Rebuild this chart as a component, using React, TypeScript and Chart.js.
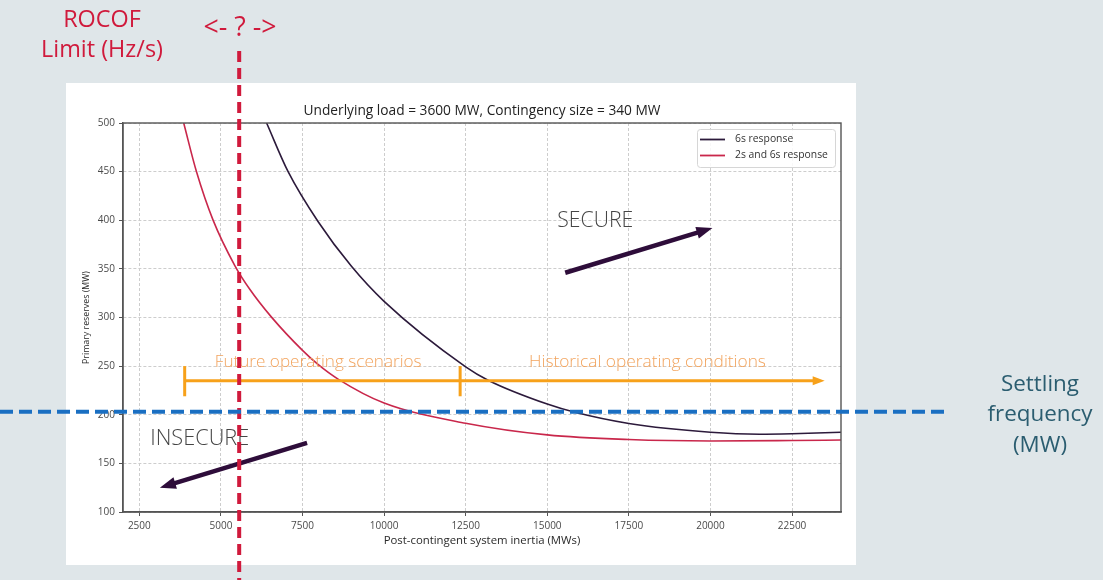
import React, { useEffect, useRef } from "react";
import { Chart, registerables } from "chart.js";

Chart.register(...registerables);

// ---------- data ----------
const seriesLabels = ["6s response", "2s and 6s response"];
const chartTitle = "Underlying load = 3600 MW, Contingency size = 340 MW";
const xAxisTitle = "Post-contingent system inertia (MWs)";
const yAxisTitle = "Primary reserves (MW)";

const inertia6s = [6400, 7055, 7975, 9000, 10000, 12500, 13200, 15000, 15850, 17500, 20000, 21500, 22500, 24000];
const reserves6s = [500, 450.2, 398.7, 352.6, 316.6, 249.3, 235.3, 211, 202.5, 191, 182, 180, 180.5, 182];

const inertia2s6s = [3860, 4250, 4760, 5430, 5890, 6550, 7500, 7975, 8590, 10000, 12500, 15000, 17500, 20000, 22500, 24000];
const reserves2s6s = [500, 450.1, 400.1, 353.2, 328.8, 300.4, 266.2, 251.7, 236.6, 212, 191.3, 179.3, 174.5, 173, 173.5, 174];

const xTickValues = [2500, 5000, 7500, 10000, 12500, 15000, 17500, 20000, 22500];
const X_MIN = 2000;
const X_MAX = 24000;
const Y_MIN = 100;
const Y_MAX = 500;
const Y_STEP = 50;

// annotation values (data coordinates)
const rocofLimitInertia = 5560;
const settlingReserve = 203;
const operatingBandReserve = 235;
const operatingBandTickTop = 250;
const operatingBandTickBottom = 219;
const futureStartInertia = 3890;
const historicalStartInertia = 12330;
const historicalEndInertia = 23500;
const secureArrow = [[15550, 346], [20060, 392]];
const insecureArrow = [[7640, 171], [3130, 125]];
const secureLabel = { text: "SECURE", x: 16470, y: 399 };
const insecureLabel = { text: "INSECURE", x: 4350, y: 175 };
const futureLabel = { text: "Future operating scenarios", x: 7980, y: 254 };
const historicalLabel = { text: "Historical operating conditions", x: 18070, y: 254 };

const COLORS = {
  page: "#dfe6e9",
  panel: "#ffffff",
  s6: "#2c1a3b",
  s2: "#c9274b",
  grid: "#cdcdcd",
  axis: "#555555",
  tickText: "#4a4a4a",
  red: "#d01a3c",
  blue: "#1a6fc2",
  orange: "#f7a11a",
  orangeText: "#f2a45e",
  arrow: "#2e0d3a",
  regionText: "#454545",
  settling: "#2b5d70",
};

const FONT = "'Open Sans', 'Noto Sans', sans-serif";

function fitText(
  ctx: CanvasRenderingContext2D,
  text: string,
  cx: number,
  cy: number,
  width: number,
  color: string,
  weight = "400"
) {
  ctx.font = `${weight} 20px ${FONT}`;
  const w = ctx.measureText(text).width;
  const size = (20 * width) / w;
  ctx.font = `${weight} ${size}px ${FONT}`;
  ctx.fillStyle = color;
  ctx.textAlign = "center";
  ctx.textBaseline = "middle";
  ctx.fillText(text, cx, cy);
  return size;
}

function sizeFor(ctx: CanvasRenderingContext2D, text: string, width: number, weight = "400") {
  ctx.font = `${weight} 20px ${FONT}`;
  return (20 * width) / ctx.measureText(text).width;
}

function drawArrow(
  ctx: CanvasRenderingContext2D,
  x0: number,
  y0: number,
  x1: number,
  y1: number,
  color: string,
  width: number,
  headLen: number,
  headHalf: number
) {
  const ang = Math.atan2(y1 - y0, x1 - x0);
  const bx = x1 - headLen * Math.cos(ang);
  const by = y1 - headLen * Math.sin(ang);
  ctx.save();
  ctx.strokeStyle = color;
  ctx.fillStyle = color;
  ctx.lineWidth = width;
  ctx.lineCap = "butt";
  ctx.beginPath();
  ctx.moveTo(x0, y0);
  ctx.lineTo(bx + Math.cos(ang) * 2, by + Math.sin(ang) * 2);
  ctx.stroke();
  ctx.beginPath();
  ctx.moveTo(x1, y1);
  ctx.lineTo(bx + headHalf * Math.sin(ang), by - headHalf * Math.cos(ang));
  ctx.lineTo(bx - headHalf * Math.sin(ang), by + headHalf * Math.cos(ang));
  ctx.closePath();
  ctx.fill();
  ctx.restore();
}

const overlayPlugin = {
  id: "overlay",
  beforeDraw(chart: any) {
    const ctx = chart.ctx as CanvasRenderingContext2D;
    ctx.save();
    ctx.fillStyle = COLORS.page;
    ctx.fillRect(0, 0, chart.width, chart.height);
    ctx.fillStyle = COLORS.panel;
    ctx.fillRect(66, 83, 790, 482);
    ctx.restore();
  },
  afterDraw(chart: any) {
    const ctx = chart.ctx as CanvasRenderingContext2D;
    const xs = chart.scales.x;
    const ys = chart.scales.y;
    const px = (v: number) => xs.getPixelForValue(v);
    const py = (v: number) => ys.getPixelForValue(v);
    const a = chart.chartArea;

    ctx.save();
    // frame
    ctx.strokeStyle = COLORS.axis;
    ctx.lineWidth = 1.4;
    ctx.strokeRect(a.left, a.top, a.right - a.left, a.bottom - a.top);

    // title & axis titles
    fitText(ctx, chartTitle, (a.left + a.right) / 2, 111, 357, "#222");
    fitText(ctx, xAxisTitle, (a.left + a.right) / 2, 541, 197, "#2a2a2a");
    ctx.save();
    ctx.translate(86.5, (a.top + a.bottom) / 2);
    ctx.rotate(-Math.PI / 2);
    fitText(ctx, yAxisTitle, 0, 0, 93, "#2a2a2a");
    ctx.restore();

    // legend
    const lx = 697, ly = 129, lw = 138, lh = 38;
    ctx.fillStyle = "rgba(255,255,255,0.85)";
    ctx.strokeStyle = "#d6d6d6";
    ctx.lineWidth = 1;
    ctx.beginPath();
    (ctx as any).roundRect(lx + 0.5, ly + 0.5, lw, lh, 3);
    ctx.fill();
    ctx.stroke();
    const legendColors = [COLORS.s6, COLORS.s2];
    const legendY = [139.5, 155.5];
    const lSize = sizeFor(ctx, seriesLabels[1], 93);
    seriesLabels.forEach((lab, i) => {
      ctx.strokeStyle = legendColors[i];
      ctx.lineWidth = 1.8;
      ctx.beginPath();
      ctx.moveTo(700, legendY[i]);
      ctx.lineTo(725, legendY[i]);
      ctx.stroke();
      ctx.font = `400 ${lSize}px ${FONT}`;
      ctx.fillStyle = "#333";
      ctx.textAlign = "left";
      ctx.textBaseline = "middle";
      ctx.fillText(lab, 735, legendY[i]);
    });

    // operating band (orange)
    const bandY = py(operatingBandReserve);
    drawArrow(ctx, px(futureStartInertia), bandY, px(historicalEndInertia), bandY, COLORS.orange, 3, 12, 4.5);
    ctx.strokeStyle = COLORS.orange;
    ctx.lineWidth = 3;
    [futureStartInertia, historicalStartInertia].forEach((v) => {
      ctx.beginPath();
      ctx.moveTo(px(v), py(operatingBandTickTop));
      ctx.lineTo(px(v), py(operatingBandTickBottom));
      ctx.stroke();
    });
    fitText(ctx, futureLabel.text, px(futureLabel.x), py(futureLabel.y), 207, COLORS.orangeText, "300");
    fitText(ctx, historicalLabel.text, px(historicalLabel.x), py(historicalLabel.y), 237, COLORS.orangeText, "300");

    // region labels and arrows
    fitText(ctx, secureLabel.text, px(secureLabel.x), py(secureLabel.y), 76, COLORS.regionText, "300");
    fitText(ctx, insecureLabel.text, px(insecureLabel.x), py(insecureLabel.y), 99, COLORS.regionText, "300");
    drawArrow(ctx, px(secureArrow[0][0]), py(secureArrow[0][1]), px(secureArrow[1][0]), py(secureArrow[1][1]), COLORS.arrow, 4.5, 16, 6);
    drawArrow(ctx, px(insecureArrow[0][0]), py(insecureArrow[0][1]), px(insecureArrow[1][0]), py(insecureArrow[1][1]), COLORS.arrow, 4.5, 16, 6);

    // ROCOF limit (red dashed vertical)
    const rx = px(rocofLimitInertia);
    ctx.strokeStyle = COLORS.red;
    ctx.lineWidth = 4;
    ctx.setLineDash([11, 6]);
    ctx.beginPath();
    ctx.moveTo(rx, 51);
    ctx.lineTo(rx, 580);
    ctx.stroke();

    // settling frequency (blue dashed horizontal)
    const by = py(settlingReserve);
    ctx.strokeStyle = COLORS.blue;
    ctx.setLineDash([13, 6]);
    ctx.beginPath();
    ctx.moveTo(0, by);
    ctx.lineTo(948, by);
    ctx.stroke();
    ctx.setLineDash([]);

    // outer texts
    const rSize = sizeFor(ctx, "Limit (Hz/s)", 122);
    ctx.font = `400 ${rSize}px ${FONT}`;
    ctx.fillStyle = COLORS.red;
    ctx.textAlign = "center";
    ctx.textBaseline = "middle";
    ctx.fillText("ROCOF", 102, 20);
    ctx.fillText("Limit (Hz/s)", 102, 50);
    fitText(ctx, "<- ? ->", 240, 28, 73, COLORS.red);

    const sSize = sizeFor(ctx, "frequency", 105);
    ctx.font = `400 ${sSize}px ${FONT}`;
    ctx.fillStyle = COLORS.settling;
    ctx.textAlign = "center";
    ctx.textBaseline = "middle";
    ctx.fillText("Settling", 1040, 385);
    ctx.fillText("frequency", 1040, 415);
    ctx.fillText("(MW)", 1040, 446);
    ctx.restore();
  },
};

export default function App() {
  const ref = useRef<HTMLCanvasElement>(null);
  useEffect(() => {
    document.body.style.margin = "0";
    const canvas = ref.current;
    if (!canvas) return;
    const tickFont = { family: FONT, size: 10 };
    const chart = new Chart(canvas, {
      type: "line",
      data: {
        datasets: [
          {
            label: seriesLabels[0],
            data: inertia6s.map((x, i) => ({ x, y: reserves6s[i] })),
            borderColor: COLORS.s6,
            borderWidth: 1.6,
            pointRadius: 0,
            cubicInterpolationMode: "monotone",
            fill: false,
          },
          {
            label: seriesLabels[1],
            data: inertia2s6s.map((x, i) => ({ x, y: reserves2s6s[i] })),
            borderColor: COLORS.s2,
            borderWidth: 1.6,
            pointRadius: 0,
            cubicInterpolationMode: "monotone",
            fill: false,
          },
        ],
      },
      options: {
        responsive: false,
        animation: false,
        layout: { padding: { left: 67, right: 262, top: 123, bottom: 28 } },
        plugins: {
          legend: { display: false },
          title: { display: false },
          tooltip: { enabled: false },
        },
        scales: {
          x: {
            type: "linear",
            min: X_MIN,
            max: X_MAX,
            afterBuildTicks: (s: any) => {
              s.ticks = xTickValues.map((v) => ({ value: v }));
            },
            afterFit: (s: any) => {
              s.height = 40;
            },
            ticks: {
              font: tickFont,
              color: COLORS.tickText,
              padding: 4,
              maxRotation: 0,
              autoSkip: false,
              callback: (v: any) => String(v),
            },
            grid: {
              color: COLORS.grid,
              lineWidth: 1,
              tickLength: 4,
              tickColor: COLORS.axis,
              tickWidth: 1,
              tickBorderDash: [],
            },
            border: { display: true, color: COLORS.axis, width: 1.4, dash: [3, 2] },
          },
          y: {
            type: "linear",
            min: Y_MIN,
            max: Y_MAX,
            afterFit: (s: any) => {
              s.width = 56;
            },
            ticks: {
              stepSize: Y_STEP,
              font: tickFont,
              color: COLORS.tickText,
              padding: 4,
              callback: (v: any) => String(v),
            },
            grid: {
              color: COLORS.grid,
              lineWidth: 1,
              tickLength: 4,
              tickColor: COLORS.axis,
              tickWidth: 1,
              tickBorderDash: [],
            },
            border: { display: true, color: COLORS.axis, width: 1.4, dash: [3, 2] },
          },
        },
      },
      plugins: [overlayPlugin],
    } as any);
    return () => chart.destroy();
  }, []);
  return (
    <div style={{ width: 1103, height: 580, position: "relative" }}>
      <canvas ref={ref} width={1103} height={580} style={{ display: "block" }} />
    </div>
  );
}
